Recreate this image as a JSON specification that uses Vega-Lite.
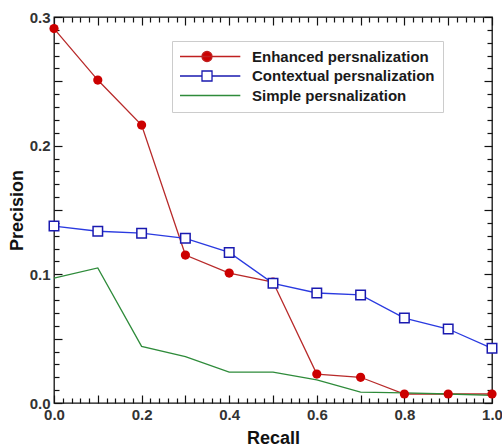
{
  "$schema": "https://vega.github.io/schema/vega-lite/v6.json",
  "autosize": "none",
  "padding": {"left": 54, "top": 17, "right": 10, "bottom": 43},
  "width": 438,
  "height": 386,
  "background": "white",
  "config": {
    "view": {"stroke": "#111", "strokeWidth": 1.3},
    "axis": {"labelFont": "Liberation Sans", "titleFont": "Liberation Sans", "grid": false, "domain": false, "tickColor": "#111", "tickWidth": 1.2, "labelFlush": false}
  },
  "data": {
    "values": [
      {"recall": 0.0, "precision": 0.291, "series": "Enhanced persnalization"},
      {"recall": 0.1, "precision": 0.251, "series": "Enhanced persnalization"},
      {"recall": 0.2, "precision": 0.216, "series": "Enhanced persnalization"},
      {"recall": 0.3, "precision": 0.115, "series": "Enhanced persnalization"},
      {"recall": 0.4, "precision": 0.101, "series": "Enhanced persnalization"},
      {"recall": 0.5, "precision": 0.094, "series": "Enhanced persnalization"},
      {"recall": 0.6, "precision": 0.0225, "series": "Enhanced persnalization"},
      {"recall": 0.7, "precision": 0.020, "series": "Enhanced persnalization"},
      {"recall": 0.8, "precision": 0.007, "series": "Enhanced persnalization"},
      {"recall": 0.9, "precision": 0.007, "series": "Enhanced persnalization"},
      {"recall": 1.0, "precision": 0.007, "series": "Enhanced persnalization"},
      {"recall": 0.0, "precision": 0.1375, "series": "Contextual persnalization"},
      {"recall": 0.1, "precision": 0.1335, "series": "Contextual persnalization"},
      {"recall": 0.2, "precision": 0.132, "series": "Contextual persnalization"},
      {"recall": 0.3, "precision": 0.128, "series": "Contextual persnalization"},
      {"recall": 0.4, "precision": 0.117, "series": "Contextual persnalization"},
      {"recall": 0.5, "precision": 0.093, "series": "Contextual persnalization"},
      {"recall": 0.6, "precision": 0.0855, "series": "Contextual persnalization"},
      {"recall": 0.7, "precision": 0.084, "series": "Contextual persnalization"},
      {"recall": 0.8, "precision": 0.066, "series": "Contextual persnalization"},
      {"recall": 0.9, "precision": 0.0575, "series": "Contextual persnalization"},
      {"recall": 1.0, "precision": 0.0425, "series": "Contextual persnalization"},
      {"recall": 0.0, "precision": 0.097, "series": "Simple persnalization"},
      {"recall": 0.1, "precision": 0.105, "series": "Simple persnalization"},
      {"recall": 0.2, "precision": 0.044, "series": "Simple persnalization"},
      {"recall": 0.3, "precision": 0.036, "series": "Simple persnalization"},
      {"recall": 0.4, "precision": 0.024, "series": "Simple persnalization"},
      {"recall": 0.5, "precision": 0.024, "series": "Simple persnalization"},
      {"recall": 0.6, "precision": 0.018, "series": "Simple persnalization"},
      {"recall": 0.7, "precision": 0.0085, "series": "Simple persnalization"},
      {"recall": 0.8, "precision": 0.0078, "series": "Simple persnalization"},
      {"recall": 0.9, "precision": 0.007, "series": "Simple persnalization"},
      {"recall": 1.0, "precision": 0.006, "series": "Simple persnalization"}
    ]
  },
  "resolve": {"axis": {"x": "independent", "y": "independent"}},
  "layer": [
    {
      "mark": {"type": "line", "strokeWidth": 1.3},
      "encoding": {
        "x": {"field": "recall", "type": "quantitative", "scale": {"domain": [0, 1], "nice": false, "zero": false},
          "axis": {"orient": "bottom", "values": [0,0.1,0.2,0.3,0.4,0.5,0.6,0.7,0.8,0.9,1.0], "tickSize": 8, "offset": -8, "labelPadding": 4, "format": ".1f",
            "labelExpr": "round(datum.value*10) % 2 == 0 ? datum.label : ''", "labelFontSize": 15, "labelFontWeight": "bold", "labelColor": "#333",
            "title": "Recall", "titleFontSize": 18, "titleFontWeight": "bold", "titleColor": "#111", "titlePadding": 7}},
        "y": {"field": "precision", "type": "quantitative", "scale": {"domain": [0, 0.3], "nice": false},
          "axis": {"orient": "left", "values": [0,0.05,0.1,0.15,0.2,0.25,0.3], "tickSize": 8, "offset": -8, "labelPadding": 4, "format": ".1f",
            "labelExpr": "round(datum.value*100) % 10 == 0 ? datum.label : ''", "labelFontSize": 15, "labelFontWeight": "bold", "labelColor": "#333",
            "title": "Precision", "titleFontSize": 18, "titleFontWeight": "bold", "titleColor": "#111", "titlePadding": 3}},
        "color": {"field": "series", "type": "nominal", "legend": null,
          "scale": {"domain": ["Contextual persnalization", "Enhanced persnalization", "Simple persnalization"], "range": ["#2a3ae0", "#b82a2a", "#2e8b3a"]}}
      }
    },
    {
      "transform": [{"filter": "datum.series == 'Enhanced persnalization'"}],
      "mark": {"type": "point", "shape": "circle", "filled": true, "size": 85, "color": "#cc0000", "opacity": 1},
      "encoding": {
        "x": {"field": "recall", "type": "quantitative",
          "axis": {"orient": "bottom", "values": [0.02,0.04,0.06,0.08,0.12,0.14,0.16,0.18,0.22,0.24,0.26,0.28,0.32,0.34,0.36,0.38,0.42,0.44,0.46,0.48,0.52,0.54,0.56,0.58,0.62,0.64,0.66,0.68,0.72,0.74,0.76,0.78,0.82,0.84,0.86,0.88,0.92,0.94,0.96,0.98], "tickSize": 5, "offset": -5, "labels": false, "title": null}},
        "y": {"field": "precision", "type": "quantitative",
          "axis": {"orient": "left", "values": [0.01,0.02,0.03,0.04,0.06,0.07,0.08,0.09,0.11,0.12,0.13,0.14,0.16,0.17,0.18,0.19,0.21,0.22,0.23,0.24,0.26,0.27,0.28,0.29], "tickSize": 5, "offset": -5, "labels": false, "title": null}}
      }
    },
    {
      "transform": [{"filter": "datum.series == 'Contextual persnalization'"}],
      "mark": {"type": "point", "shape": "square", "filled": false, "size": 90, "stroke": "#1a1ab0", "fill": "white", "fillOpacity": 1, "strokeWidth": 1.5, "opacity": 1},
      "encoding": {
        "x": {"field": "recall", "type": "quantitative",
          "axis": {"orient": "top", "values": [0,0.1,0.2,0.3,0.4,0.5,0.6,0.7,0.8,0.9,1.0], "tickSize": 8, "offset": -8, "labels": false, "title": null}},
        "y": {"field": "precision", "type": "quantitative",
          "axis": {"orient": "right", "values": [0,0.05,0.1,0.15,0.2,0.25,0.3], "tickSize": 8, "offset": -8, "labels": false, "title": null}}
      }
    },
    {
      "mark": {"type": "point", "opacity": 0},
      "encoding": {
        "x": {"field": "recall", "type": "quantitative",
          "axis": {"orient": "top", "values": [0.02,0.04,0.06,0.08,0.12,0.14,0.16,0.18,0.22,0.24,0.26,0.28,0.32,0.34,0.36,0.38,0.42,0.44,0.46,0.48,0.52,0.54,0.56,0.58,0.62,0.64,0.66,0.68,0.72,0.74,0.76,0.78,0.82,0.84,0.86,0.88,0.92,0.94,0.96,0.98], "tickSize": 5, "offset": -5, "labels": false, "title": null}},
        "y": {"field": "precision", "type": "quantitative",
          "axis": {"orient": "right", "values": [0.01,0.02,0.03,0.04,0.06,0.07,0.08,0.09,0.11,0.12,0.13,0.14,0.16,0.17,0.18,0.19,0.21,0.22,0.23,0.24,0.26,0.27,0.28,0.29], "tickSize": 5, "offset": -5, "labels": false, "title": null}},
        "shape": {"field": "series", "type": "nominal",
          "scale": {"domain": ["Enhanced persnalization", "Contextual persnalization", "Simple persnalization"],
            "range": ["M-1.257,0L0.977,0M-0.3,0A0.167,0.167 0 1,0 0.034,0A0.167,0.167 0 1,0 -0.3,0Z",
                      "M-1.257,0L-0.3,0M0.034,0L0.977,0M-0.3,-0.167L0.034,-0.167L0.034,0.167L-0.3,0.167Z",
                      "M-1.257,0L0.977,0"]},
          "legend": {"title": null, "orient": "none", "legendX": 118, "legendY": 24, "symbolSize": 3600, "symbolStrokeWidth": 1.3, "symbolOpacity": 1,
            "clipHeight": 15, "rowPadding": 3.5, "padding": 8, "labelOffset": 10, "labelFont": "Liberation Sans", "labelFontSize": 15, "labelFontWeight": "bold", "labelColor": "#1a1a1a",
            "strokeColor": "#cccccc", "fillColor": "white", "labelLimit": 300}},
        "stroke": {"field": "series", "type": "nominal",
          "scale": {"domain": ["Enhanced persnalization", "Contextual persnalization", "Simple persnalization"], "range": ["#c02020", "#1a1ab0", "#2e8b3a"]}},
        "fill": {"field": "series", "type": "nominal",
          "scale": {"domain": ["Enhanced persnalization", "Contextual persnalization", "Simple persnalization"], "range": ["#cc0000", "#ffffff", "transparent"]}}
      }
    }
  ]
}
